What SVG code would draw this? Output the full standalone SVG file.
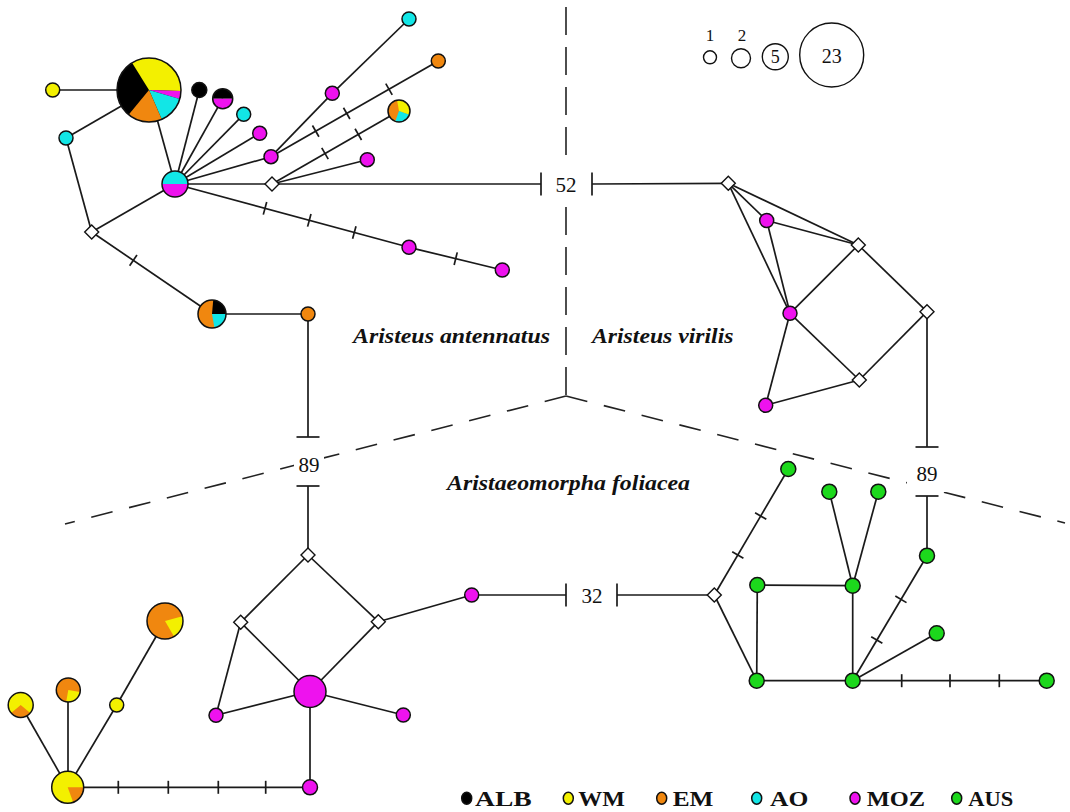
<svg xmlns="http://www.w3.org/2000/svg" xmlns:xlink="http://www.w3.org/1999/xlink" width="1070" height="812" viewBox="0 0 1070 812">
<style>
.bg{fill:#ffffff}
.dash{stroke:#222;stroke-width:1.6;fill:none}
.dv{stroke-dasharray:28 12}
.ds{stroke-dasharray:22 17}
#connectors line{stroke:#1a1a1a;stroke-width:1.7;fill:none}
.nd{stroke:#111;stroke-width:1.5}
.ol{fill:none;stroke:#111;stroke-width:1.5}
.Y{fill:#f3f000}
.O{fill:#f0870f}
.C{fill:#12e6e6}
.M{fill:#ee12ee}
.G{fill:#1cd81c}
.K{fill:#000}
.dia{fill:#fff;stroke:#111;stroke-width:1.4}
.sp{font-family:"Liberation Serif","Times New Roman",serif;font-weight:bold;font-style:italic;font-size:20px;fill:#111}
.num{font-family:"Liberation Serif","Times New Roman",serif;font-size:21px;fill:#111;text-anchor:middle}
.sc{font-family:"Liberation Serif","Times New Roman",serif;fill:#111;text-anchor:middle}
.lg{font-family:"Liberation Serif","Times New Roman",serif;font-weight:bold;font-size:21px;fill:#111}
.sc-c{fill:#fff;stroke:#111;stroke-width:1.4}
</style>
<defs>
<polygon id="dia" class="dia" points="0,-7 7,0 0,7 -7,0"/>
</defs>
<rect x="0" y="0" width="1070" height="812" fill="#fff"/>

<g id="dividers">
<line class="dash dv" x1="566" y1="7" x2="566" y2="396"/>
<line class="dash ds" x1="566" y1="396" x2="65" y2="524"/>
<line class="dash ds" x1="566" y1="396" x2="1065" y2="523"/>
<rect class="bg" x="547" y="164" width="39" height="40"/>
<rect class="bg" x="294" y="448" width="30" height="30"/>
<rect class="bg" x="907" y="458" width="40" height="34"/>
</g>

<g id="connectors">
<line x1="52.7" y1="90" x2="149" y2="90"/>
<line x1="66" y1="138" x2="149" y2="90"/>
<line x1="66" y1="138" x2="91.7" y2="232"/>
<line x1="91.7" y1="232" x2="175" y2="184"/>
<line x1="91.7" y1="232" x2="212" y2="314"/>
<line x1="136.96" y1="255.03" x2="129.64" y2="265.77"/>
<line x1="149" y1="90" x2="175" y2="184"/>
<line x1="175" y1="184" x2="199.3" y2="90"/>
<line x1="175" y1="184" x2="222.7" y2="98.7"/>
<line x1="175" y1="184" x2="243.7" y2="114.3"/>
<line x1="175" y1="184" x2="259.7" y2="133.3"/>
<line x1="175" y1="184" x2="271" y2="156.7"/>
<line x1="175" y1="184" x2="272" y2="184"/>
<line x1="175" y1="184" x2="409" y2="247.3"/>
<line x1="266.7" y1="202.08" x2="263.3" y2="214.62"/>
<line x1="311" y1="214.06" x2="307.6" y2="226.6"/>
<line x1="356" y1="226.23" x2="352.6" y2="238.77"/>
<line x1="409" y1="247.3" x2="502.3" y2="270"/>
<line x1="457.24" y1="252.34" x2="454.16" y2="264.98"/>
<line x1="271" y1="156.7" x2="332.3" y2="93.3"/>
<line x1="332.3" y1="93.3" x2="409" y2="19"/>
<line x1="271" y1="156.7" x2="438.3" y2="61"/>
<line x1="318.93" y1="136.77" x2="312.47" y2="125.49"/>
<line x1="349.93" y1="119.04" x2="343.47" y2="107.76"/>
<line x1="392.23" y1="94.84" x2="385.77" y2="83.56"/>
<line x1="272" y1="184" x2="399" y2="111"/>
<line x1="328.24" y1="159.17" x2="321.76" y2="147.91"/>
<line x1="361.54" y1="140.03" x2="355.06" y2="128.77"/>
<line x1="272" y1="184" x2="367.3" y2="159.7"/>
<line x1="272" y1="184" x2="541" y2="184"/>
<line x1="541" y1="172.5" x2="541" y2="195.5"/>
<line x1="592" y1="172.5" x2="592" y2="195.5"/>
<line x1="592" y1="184" x2="728.3" y2="183.3"/>
<line x1="212" y1="314" x2="308" y2="314"/>
<line x1="308" y1="314" x2="308" y2="437"/>
<line x1="296.5" y1="437" x2="319.5" y2="437"/>
<line x1="296.5" y1="486" x2="319.5" y2="486"/>
<line x1="308" y1="486" x2="308" y2="555"/>

<line x1="728.3" y1="183.3" x2="766.7" y2="220.5"/>
<line x1="728.3" y1="183.3" x2="858.3" y2="245"/>
<line x1="728.3" y1="183.3" x2="790" y2="313.3"/>
<line x1="766.7" y1="220.5" x2="858.3" y2="245"/>
<line x1="766.7" y1="220.5" x2="790" y2="313.3"/>
<line x1="790" y1="313.3" x2="858.3" y2="245"/>
<line x1="858.3" y1="245" x2="927" y2="311.7"/>
<line x1="790" y1="313.3" x2="859.3" y2="380"/>
<line x1="859.3" y1="380" x2="927" y2="311.7"/>
<line x1="790" y1="313.3" x2="765.7" y2="405.3"/>
<line x1="765.7" y1="405.3" x2="859.3" y2="380"/>
<line x1="927" y1="311.7" x2="927" y2="447"/>
<line x1="915.5" y1="447" x2="938.5" y2="447"/>
<line x1="915.5" y1="496" x2="938.5" y2="496"/>
<line x1="927" y1="496" x2="927" y2="555.7"/>

<line x1="471.7" y1="595" x2="566" y2="595"/>
<line x1="566" y1="583.5" x2="566" y2="606.5"/>
<line x1="617" y1="583.5" x2="617" y2="606.5"/>
<line x1="617" y1="595" x2="714.3" y2="595"/>
<line x1="714.3" y1="595" x2="788.3" y2="469"/>
<line x1="743.41" y1="558.29" x2="732.19" y2="551.71"/>
<line x1="766.31" y1="519.29" x2="755.09" y2="512.71"/>
<line x1="714.3" y1="595" x2="756.7" y2="680.7"/>
<line x1="757.3" y1="585" x2="852.7" y2="585.7"/>
<line x1="757.3" y1="585" x2="756.7" y2="680.7"/>
<line x1="852.7" y1="585.7" x2="852.7" y2="680.7"/>
<line x1="829.3" y1="491.7" x2="852.7" y2="585.7"/>
<line x1="878.3" y1="491.7" x2="852.7" y2="585.7"/>
<line x1="756.7" y1="680.7" x2="852.7" y2="680.7"/>
<line x1="852.7" y1="680.7" x2="927" y2="555.7"/>
<line x1="882.39" y1="643.31" x2="871.21" y2="636.69"/>
<line x1="906.49" y1="602.61" x2="895.31" y2="595.99"/>
<line x1="852.7" y1="680.7" x2="936.7" y2="633.3"/>
<line x1="852.7" y1="680.7" x2="1046.7" y2="680.7"/>
<line x1="901.7" y1="674.2" x2="901.7" y2="687.2"/>
<line x1="950" y1="674.2" x2="950" y2="687.2"/>
<line x1="999.3" y1="674.2" x2="999.3" y2="687.2"/>

<line x1="308" y1="555" x2="240.7" y2="622.3"/>
<line x1="308" y1="555" x2="378.3" y2="621.7"/>
<line x1="240.7" y1="622.3" x2="310" y2="691.5"/>
<line x1="378.3" y1="621.7" x2="310" y2="691.5"/>
<line x1="240.7" y1="622.3" x2="216" y2="715.3"/>
<line x1="216" y1="715.3" x2="310" y2="691.5"/>
<line x1="310" y1="691.5" x2="403.3" y2="715"/>
<line x1="378.3" y1="621.7" x2="471.7" y2="595"/>
<line x1="310" y1="691.5" x2="310" y2="787.3"/>
<line x1="67.7" y1="787.3" x2="310" y2="787.3"/>
<line x1="118.3" y1="780.8" x2="118.3" y2="793.8"/>
<line x1="168.3" y1="780.8" x2="168.3" y2="793.8"/>
<line x1="218.3" y1="780.8" x2="218.3" y2="793.8"/>
<line x1="265.7" y1="780.8" x2="265.7" y2="793.8"/>
<line x1="67.7" y1="787.3" x2="20.7" y2="705"/>
<line x1="68" y1="787.3" x2="68" y2="690"/>
<line x1="67.7" y1="787.3" x2="116.7" y2="705"/>
<line x1="116.7" y1="705" x2="165" y2="621"/>
</g>

<g id="n-bigpie">
<circle class="K" cx="149" cy="90" r="32"/>
<path class="Y" d="M149 90 L132.04 62.86 A32 32 0 0 1 180.98 91.12 Z"/>
<path class="M" d="M149 90 L180.98 91.12 A32 32 0 0 1 179.68 99.09 Z"/>
<path class="C" d="M149 90 L179.68 99.09 A32 32 0 0 1 161.76 119.35 Z"/>
<path class="O" d="M149 90 L161.76 119.35 A32 32 0 0 1 128.64 114.69 Z"/>
<circle class="ol" cx="149" cy="90" r="32"/>
</g>
<g id="n-y1"><circle class="Y nd" cx="52.7" cy="90" r="7"/></g>
<g id="n-c1"><circle class="C nd" cx="66" cy="138" r="7"/></g>
<g id="d1"><use xlink:href="#dia" x="91.7" y="232"/></g>
<g id="n-cm">
<path class="C" d="M162 184 A13 13 0 0 1 188 184 Z"/>
<path class="M" d="M162 184 A13 13 0 0 0 188 184 Z"/>
<circle class="ol" cx="175" cy="184" r="13"/>
</g>
<g id="n-b1"><circle class="K nd" cx="199.3" cy="90" r="7.5"/></g>
<g id="n-bm">
<path class="K" d="M212.7 98.7 A10 10 0 0 1 232.7 98.7 Z"/>
<path class="M" d="M212.7 98.7 A10 10 0 0 0 232.7 98.7 Z"/>
<circle class="ol" cx="222.7" cy="98.7" r="10"/>
</g>
<g id="n-c2"><circle class="C nd" cx="243.7" cy="114.3" r="7"/></g>
<g id="n-m1"><circle class="M nd" cx="259.7" cy="133.3" r="7"/></g>
<g id="n-m2"><circle class="M nd" cx="271" cy="156.7" r="7"/></g>
<g id="d2"><use xlink:href="#dia" x="272" y="184"/></g>
<g id="n-m3"><circle class="M nd" cx="332.3" cy="93.3" r="7"/></g>
<g id="n-c3"><circle class="C nd" cx="409" cy="19" r="7"/></g>
<g id="n-o1"><circle class="O nd" cx="438.3" cy="61" r="7"/></g>
<g id="n-pie3">
<circle class="O" cx="399" cy="111" r="11"/>
<path class="Y" d="M399 111 L397.09 100.17 A11 11 0 0 1 409.34 114.76 Z"/>
<path class="C" d="M399 111 L409.34 114.76 A11 11 0 0 1 395.24 121.34 Z"/>
<circle class="ol" cx="399" cy="111" r="11"/>
</g>
<g id="n-m4"><circle class="M nd" cx="367.3" cy="159.7" r="7"/></g>
<g id="n-m5"><circle class="M nd" cx="409" cy="247.3" r="7"/></g>
<g id="n-m6"><circle class="M nd" cx="502.3" cy="270" r="7"/></g>
<g id="n-obc">
<circle class="O" cx="212" cy="314" r="14"/>
<path class="K" d="M212 314 L213.22 300.05 A14 14 0 0 1 226 314 Z"/>
<path class="C" d="M212 314 L226 314 A14 14 0 0 1 214.43 327.79 Z"/>
<circle class="ol" cx="212" cy="314" r="14"/>
</g>
<g id="n-o2"><circle class="O nd" cx="308" cy="314" r="7"/></g>

<g id="d3"><use xlink:href="#dia" x="728.3" y="183.3"/></g>
<g id="n-m7"><circle class="M nd" cx="766.7" cy="220.5" r="7"/></g>
<g id="d4"><use xlink:href="#dia" x="858.3" y="245"/></g>
<g id="n-m8"><circle class="M nd" cx="790" cy="313.3" r="7"/></g>
<g id="d5"><use xlink:href="#dia" x="927" y="311.7"/></g>
<g id="d6"><use xlink:href="#dia" x="859.3" y="380"/></g>
<g id="n-m9"><circle class="M nd" cx="765.7" cy="405.3" r="7"/></g>

<g id="n-g1"><circle class="G nd" cx="927" cy="555.7" r="7.5"/></g>
<g id="n-g2"><circle class="G nd" cx="788.3" cy="469" r="7.5"/></g>
<g id="n-g3"><circle class="G nd" cx="829.3" cy="491.7" r="7.5"/></g>
<g id="n-g4"><circle class="G nd" cx="878.3" cy="491.7" r="7.5"/></g>
<g id="d7"><use xlink:href="#dia" x="714.3" y="595"/></g>
<g id="n-g5"><circle class="G nd" cx="757.3" cy="585" r="7.5"/></g>
<g id="n-g6"><circle class="G nd" cx="852.7" cy="585.7" r="7.5"/></g>
<g id="n-g7"><circle class="G nd" cx="936.7" cy="633.3" r="7.5"/></g>
<g id="n-g8"><circle class="G nd" cx="756.7" cy="680.7" r="7.5"/></g>
<g id="n-g9"><circle class="G nd" cx="852.7" cy="680.7" r="7.5"/></g>
<g id="n-g10"><circle class="G nd" cx="1046.7" cy="680.7" r="7.5"/></g>

<g id="d8"><use xlink:href="#dia" x="308" y="555"/></g>
<g id="d9"><use xlink:href="#dia" x="240.7" y="622.3"/></g>
<g id="d10"><use xlink:href="#dia" x="378.3" y="621.7"/></g>
<g id="n-m10"><circle class="M nd" cx="471.7" cy="595" r="7"/></g>
<g id="n-bigM"><circle class="M nd" cx="310" cy="691.5" r="16"/></g>
<g id="n-m11"><circle class="M nd" cx="216" cy="715.3" r="7"/></g>
<g id="n-m12"><circle class="M nd" cx="403.3" cy="715" r="7"/></g>
<g id="n-m13"><circle class="M nd" cx="310" cy="787.3" r="7.5"/></g>
<g id="n-bigY">
<circle class="Y" cx="67.7" cy="787.3" r="16"/>
<path class="O" d="M67.7 787.3 L83.7 787.3 A16 16 0 0 1 73.17 802.34 Z"/>
<circle class="ol" cx="67.7" cy="787.3" r="16"/>
</g>
<g id="n-yo1">
<circle class="Y" cx="20.7" cy="705" r="12.5"/>
<path class="O" d="M20.7 705 L30.28 713.03 A12.5 12.5 0 0 1 11.12 713.03 Z"/>
<circle class="ol" cx="20.7" cy="705" r="12.5"/>
</g>
<g id="n-oy1">
<circle class="O" cx="68.3" cy="690" r="12"/>
<path class="Y" d="M68.3 690 L80.12 692.08 A12 12 0 0 1 66.22 701.82 Z"/>
<circle class="ol" cx="68.3" cy="690" r="12"/>
</g>
<g id="n-y2"><circle class="Y nd" cx="116.7" cy="705" r="7"/></g>
<g id="n-oy2">
<circle class="O" cx="165" cy="621" r="18"/>
<path class="Y" d="M165 621 L182.39 616.34 A18 18 0 0 1 174 636.59 Z"/>
<circle class="ol" cx="165" cy="621" r="18"/>
</g>

<g id="labels">
<text class="num" x="566" y="192">52</text>
<text class="num" x="309" y="471.5">89</text>
<text class="num" x="927" y="481">89</text>
<text class="num" x="592" y="603">32</text>
<text class="sp" x="353" y="343" textLength="197" lengthAdjust="spacingAndGlyphs">Aristeus antennatus</text>
<text class="sp" x="592" y="343" textLength="141.5" lengthAdjust="spacingAndGlyphs">Aristeus virilis</text>
<text class="sp" x="447" y="490" textLength="243" lengthAdjust="spacingAndGlyphs">Aristaeomorpha foliacea</text>
</g>

<g id="scale">
<circle class="sc-c" cx="710" cy="57.3" r="6.5"/>
<circle class="sc-c" cx="741" cy="58.3" r="9.5"/>
<circle class="sc-c" cx="775.3" cy="56.7" r="13"/>
<circle class="sc-c" cx="831.7" cy="55" r="32"/>
<text class="sc" x="710" y="40.5" font-size="17">1</text>
<text class="sc" x="742" y="40.5" font-size="17">2</text>
<text class="sc" x="775.3" y="63" font-size="18">5</text>
<text class="sc" x="831.7" y="63.3" font-size="20">23</text>
</g>

<g id="legend">
<ellipse class="K nd" cx="466.7" cy="798.3" rx="5" ry="6"/>
<text class="lg" x="475" y="805.7" textLength="56.7" lengthAdjust="spacingAndGlyphs">ALB</text>
<ellipse class="Y nd" cx="568.3" cy="798.3" rx="5" ry="6"/>
<text class="lg" x="578.3" y="805.7" textLength="46.7" lengthAdjust="spacingAndGlyphs">WM</text>
<ellipse class="O nd" cx="661.7" cy="798.3" rx="5" ry="6"/>
<text class="lg" x="672.7" y="805.7" textLength="40.7" lengthAdjust="spacingAndGlyphs">EM</text>
<ellipse class="C nd" cx="756.7" cy="798.3" rx="5" ry="6"/>
<text class="lg" x="770" y="805.7" textLength="38.3" lengthAdjust="spacingAndGlyphs">AO</text>
<ellipse class="M nd" cx="855" cy="798.3" rx="5" ry="6"/>
<text class="lg" x="866.7" y="805.7" textLength="58.3" lengthAdjust="spacingAndGlyphs">MOZ</text>
<ellipse class="G nd" cx="956.7" cy="798.3" rx="5" ry="6"/>
<text class="lg" x="968.3" y="805.7" textLength="45" lengthAdjust="spacingAndGlyphs">AUS</text>
</g>
</svg>
